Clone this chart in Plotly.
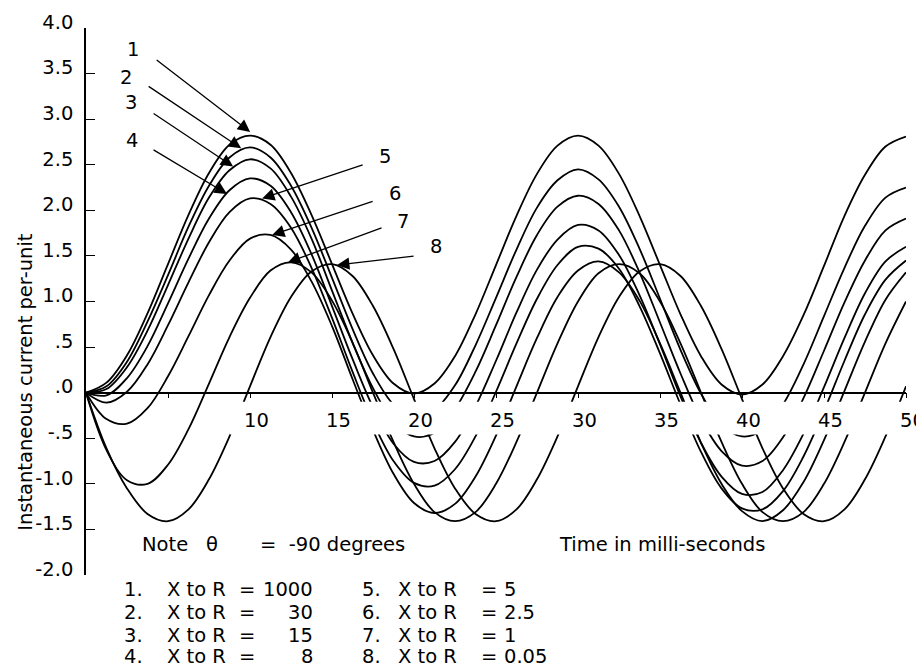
import plotly.graph_objects as go

# ---------------- data ----------------
time_ms = [0, 1.25, 2.5, 3.75, 5, 6.25, 7.5, 8.75, 10, 11.25, 12.5, 13.75, 15, 16.25,
           17.5, 18.75, 20, 21.25, 22.5, 23.75, 25, 26.25, 27.5, 28.75, 30, 31.25,
           32.5, 33.75, 35, 36.25, 37.5, 38.75, 40, 41.25, 42.5, 43.75, 45, 46.25,
           47.5, 48.75, 50]

curve_1 = [0, 0.11, 0.41, 0.87, 1.41, 1.95, 2.41, 2.72, 2.82, 2.72, 2.41, 1.95, 1.41, 0.87,
           0.41, 0.10, -0.01, 0.10, 0.40, 0.86, 1.40, 1.94, 2.40, 2.71, 2.82, 2.71, 2.40,
           1.94, 1.40, 0.86, 0.40, 0.09, -0.02, 0.09, 0.40, 0.85, 1.39, 1.94, 2.39, 2.70, 2.81]
curve_2 = [0, 0.07, 0.34, 0.78, 1.29, 1.82, 2.27, 2.58, 2.69, 2.58, 2.27, 1.81, 1.26, 0.70,
           0.21, -0.13, -0.27, -0.19, 0.08, 0.52, 1.04, 1.57, 2.03, 2.33, 2.45, 2.34, 2.04,
           1.58, 1.03, 0.47, -0.01, -0.35, -0.48, -0.41, -0.13, 0.31, 0.84, 1.37, 1.83, 2.14, 2.25]
curve_3 = [0, 0.04, 0.28, 0.68, 1.18, 1.69, 2.14, 2.44, 2.56, 2.46, 2.15, 1.69, 1.12, 0.55,
           0.05, -0.32, -0.48, -0.44, -0.18, 0.23, 0.74, 1.27, 1.73, 2.04, 2.16, 2.07, 1.78,
           1.32, 0.77, 0.21, -0.29, -0.64, -0.80, -0.75, -0.49, -0.06, 0.46, 0.99, 1.45, 1.78, 1.91]
curve_4 = [0, -0.03, 0.16, 0.51, 0.98, 1.47, 1.91, 2.22, 2.35, 2.27, 1.98, 1.52, 0.95, 0.37,
           -0.16, -0.56, -0.76, -0.75, -0.54, -0.15, 0.35, 0.88, 1.35, 1.68, 1.84, 1.78, 1.51,
           1.07, 0.53, -0.04, -0.55, -0.92, -1.11, -1.09, -0.85, -0.45, 0.06, 0.60, 1.09, 1.44, 1.60]
curve_5 = [0, -0.11, 0.01, 0.31, 0.74, 1.21, 1.65, 1.98, 2.13, 2.07, 1.81, 1.37, 0.82, 0.23,
           -0.32, -0.75, -0.99, -1.02, -0.84, -0.48, 0.01, 0.54, 1.03, 1.40, 1.60, 1.58, 1.36,
           0.95, 0.43, -0.13, -0.65, -1.05, -1.27, -1.28, -1.08, -0.70, -0.20, 0.35, 0.86, 1.24, 1.45]
curve_6 = [0, -0.29, -0.34, -0.17, 0.18, 0.62, 1.07, 1.45, 1.69, 1.73, 1.57, 1.22, 0.73, 0.15,
           -0.41, -0.89, -1.21, -1.32, -1.22, -0.92, -0.47, 0.07, 0.60, 1.05, 1.34, 1.44, 1.32,
           1.01, 0.54, 0.00, -0.55, -1.00, -1.30, -1.41, -1.29, -0.98, -0.52, 0.02, 0.56, 1.02, 1.32]
curve_7 = [0, -0.63, -0.96, -1.00, -0.79, -0.40, 0.10, 0.61, 1.04, 1.34, 1.43, 1.32, 1.01, 0.55,
           0.00, -0.54, -1.00, -1.31, -1.41, -1.31, -1.00, -0.54, 0.00, 0.54, 1.00, 1.31, 1.41,
           1.31, 1.00, 0.54, 0.00, -0.54, -1.00, -1.31, -1.41, -1.31, -1.00, -0.54, 0.00, 0.54, 1.00]
curve_8 = [0, -0.61, -1.05, -1.33, -1.41, -1.28, -0.95, -0.48, 0.07, 0.61, 1.05, 1.33, 1.41, 1.28,
           0.95, 0.48, -0.07, -0.61, -1.05, -1.33, -1.41, -1.28, -0.95, -0.48, 0.07, 0.61, 1.05,
           1.33, 1.41, 1.28, 0.95, 0.48, -0.07, -0.61, -1.05, -1.33, -1.41, -1.28, -0.95, -0.48, 0.07]

curves = [curve_1, curve_2, curve_3, curve_4, curve_5, curve_6, curve_7, curve_8]
curve_ids = ["1", "2", "3", "4", "5", "6", "7", "8"]
x_to_r_left = ["1000", "30", "15", "8"]
x_to_r_right = ["5", "2.5", "1", "0.05"]

x_tick_vals = [5, 10, 15, 20, 25, 30, 35, 40, 45, 50]
x_tick_text = ["", "10", "15", "20", "25", "30", "35", "40", "45", "50"]
y_tick_vals = [4.0, 3.5, 3.0, 2.5, 2.0, 1.5, 1.0, 0.5, 0.0, -0.5, -1.0, -1.5, -2.0]
y_tick_text = ["4.0", "3.5", "3.0", "2.5", "2.0", "1.5", "1.0", ".5", ".0", "-.5", "-1.0", "-1.5", "-2.0"]

# ---------------- styling / label placement ----------------
FONT = dict(family="DejaVu Sans", size=19.5, color="black")
arrow_tips = [(10.01, 2.86), (9.46, 2.68), (8.97, 2.48), (8.60, 2.18),
              (10.74, 2.13), (11.35, 1.73), (12.32, 1.43), (15.31, 1.40)]
arrow_tails = [(-95, -73), (-94, -63), (-81, -54), (-75, -45),
               (102, -34), (102, -34), (95, -35), (78, -9)]
label_pos = [(2.87, 3.76), (2.44, 3.46), (2.75, 3.18), (2.81, 2.77),
             (18.24, 2.59), (18.85, 2.19), (19.34, 1.88), (21.35, 1.60)]

fig = go.Figure()
for ys in curves:
    fig.add_trace(go.Scatter(x=time_ms, y=ys, mode="lines",
                             line=dict(color="black", width=1.8, shape="spline"),
                             hoverinfo="skip", showlegend=False))

annotations = []
for cid, (tx, ty), (ax, ay), (lx, ly) in zip(curve_ids, arrow_tips, arrow_tails, label_pos):
    annotations.append(dict(x=tx, y=ty, xref="x", yref="y", text="", showarrow=True,
                            ax=ax, ay=ay, arrowhead=2, arrowsize=1.9, arrowwidth=1.3,
                            arrowcolor="black", standoff=0))
    annotations.append(dict(x=lx, y=ly, xref="x", yref="y", text=cid, showarrow=False,
                            font=FONT, xanchor="center", yanchor="middle"))

for v, txt in zip(x_tick_vals, x_tick_text):
    if txt:
        annotations.append(dict(x=v, y=-0.30, xref="x", yref="y", text=txt, showarrow=False,
                                font=FONT, xanchor="center", yanchor="middle", xshift=6))

annotations.append(dict(x=-0.073, y=0.12, xref="paper", yref="y",
                        text="Instantaneous current per-unit", textangle=-90,
                        showarrow=False, font=FONT, xanchor="center", yanchor="middle"))
annotations.append(dict(x=3.29, y=-1.67, xref="x", yref="y", text="Note", showarrow=False,
                        font=FONT, xanchor="left", yanchor="middle"))
annotations.append(dict(x=7.69, y=-1.67, xref="x", yref="y", text="θ", showarrow=False,
                        font=FONT, xanchor="center", yanchor="middle"))
annotations.append(dict(x=10.49, y=-1.67, xref="x", yref="y", text="=  -90 degrees",
                        showarrow=False, font=FONT, xanchor="left", yanchor="middle"))
annotations.append(dict(x=28.74, y=-1.67, xref="x", yref="y", text="Time in milli-seconds",
                        showarrow=False, font=FONT, xanchor="left", yanchor="middle"))

# X to R key (rows below the plot area, paper coordinates)
row_y = [-0.0256, -0.0677, -0.1097, -0.1499]
for i, yv in enumerate(row_y):
    cells = [(2.20, curve_ids[i] + ".", "left"), (4.82, "X to R", "left"),
             (9.82, "=", "center"), (13.97, x_to_r_left[i], "right"),
             (16.72, curve_ids[i + 4] + ".", "left"), (18.90, "X to R", "left"),
             (24.55, "=", "center"), (25.35, x_to_r_right[i], "left")]
    for xv, txt, anc in cells:
        annotations.append(dict(x=xv, y=yv, xref="x", yref="paper", text=txt,
                                showarrow=False, font=FONT, xanchor=anc, yanchor="middle"))

shapes = [dict(type="rect", xref="x", yref="y", x0=8.75, x1=50.2, y0=-0.46, y1=-0.10,
               fillcolor="white", line=dict(width=0), layer="above")]

fig.update_layout(
    width=916, height=660,
    margin=dict(l=78, r=18, t=20, b=93, autoexpand=False),
    paper_bgcolor="white", plot_bgcolor="white",
    showlegend=False, hovermode=False,
    font=FONT,
    annotations=annotations,
    shapes=shapes,
    xaxis=dict(range=[0, 50], anchor="free", position=1/3, showline=True,
               linecolor="black", linewidth=1.5, ticks="outside", ticklen=5,
               tickwidth=1.2, tickcolor="black", tickvals=x_tick_vals,
               showticklabels=False, showgrid=False, zeroline=False, automargin=False),
    yaxis=dict(range=[-2, 4], showline=True, linecolor="black", linewidth=1.5,
               ticks="inside", ticklen=9, tickwidth=1.2, tickcolor="black",
               tickvals=y_tick_vals, ticktext=y_tick_text, tickfont=FONT,
               ticklabelstandoff=7, ticklabelshift=-6,
               showgrid=False, zeroline=False, automargin=False),
)

fig.write_html("out.html")
